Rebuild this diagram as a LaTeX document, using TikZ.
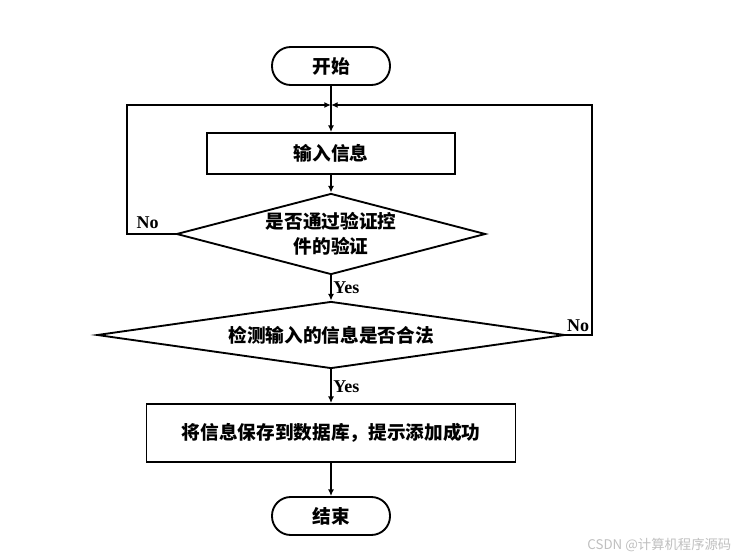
\documentclass[tikz,border=0pt]{standalone}
\usepackage{fontspec}
\setmainfont{Liberation Serif}
\newfontfamily\cjk{Noto Sans CJK SC}
\usepackage{tikz}
\usetikzlibrary{shapes.geometric}
\usetikzlibrary{arrows.meta}

\begin{document}
\begin{tikzpicture}[x=0.75pt,y=-0.75pt,>={Latex[length=5pt,width=4.5pt]},
    every node/.style={font=\cjk\bfseries\fontsize{14}{19}\selectfont},
    term/.style={draw,line width=1.4pt,rounded corners=14pt,minimum width=88.5pt,minimum height=28.5pt,inner sep=0pt},
    proc/.style={draw,line width=1.4pt,inner sep=0pt},
    decide/.style={draw,line width=1.4pt,diamond,inner sep=0pt,align=center},
    lab/.style={font=\bfseries\fontsize{13.5}{15}\selectfont,inner sep=1pt},
    line/.style={line width=1.4pt}]
    \useasboundingbox (0,0) rectangle (749,559);
    \node[term] (start) at (331,66) {开始};
    \node[proc,minimum width=186pt,minimum height=30.75pt] (input) at (331,153.5) {输入信息};
    \node[decide,minimum width=231.75pt,minimum height=60.75pt,shape aspect=3.8] (check1) at (331,234) {是否通过验证控\\件的验证};
    \node[decide,minimum width=351pt,minimum height=50.25pt,shape aspect=7] (check2) at (331,335) {检测输入的信息是否合法};
    \node[proc,minimum width=276.75pt,minimum height=43.5pt] (save) at (331,433) {将信息保存到数据库，提示添加成功};
    \node[term] (end) at (331,516) {结束};
    \coordinate (join) at (331,105);
    \coordinate (left) at (127,234);
    \coordinate (right) at (592,335);
    \draw[line] (start) -- (join);
    \draw[line,->] (join) -- (input);
    \draw[line,->] (input) -- (check1);
    \draw[line,->] (check1) -- node[lab,right] (yes1) {Yes} (check2);
    \draw[line,->] (check2) -- node[lab,right] (yes2) {Yes} (save);
    \draw[line,->] (save) -- (end);
    \draw[line,->] (check1.west) -- (left) |- (join);
    \draw[line,->] (check2.east) -- (right) |- (join);
    \node[lab,anchor=south west] (no1) at ([xshift=6pt,yshift=3pt]left) {No};
    \node[lab,anchor=south east] (no2) at ([xshift=-1pt,yshift=1.5pt]right) {No};
    \node[font=\cjk\fontsize{10}{12}\selectfont,text=gray!50,anchor=east] (mark) at (736,545) {CSDN @计算机程序源码};
\end{tikzpicture}
\end{document}
